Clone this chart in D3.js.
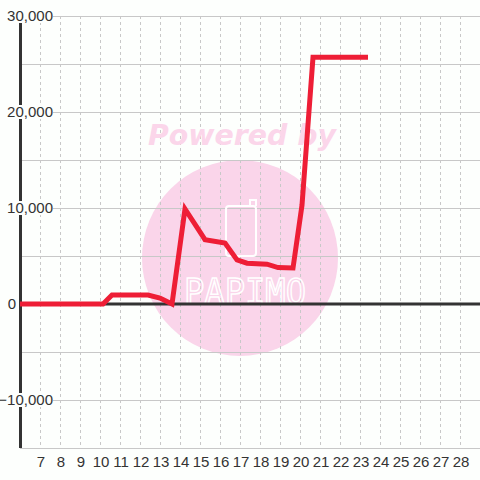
<!DOCTYPE html>
<html>
<head>
<meta charset="utf-8">
<script src="https://cdn.jsdelivr.net/npm/d3@7"></script>
<style>
	html, body { margin: 0; padding: 0; background: #fdfffd; }
	svg { display: block; }
</style>
</head>
<body>
<script>
// readings
var times = [6.0, 10.15, 10.6, 12.4, 13.0, 13.6, 14.25, 15.25, 16.25, 16.85, 17.35, 18.35, 18.9, 19.65, 20.1, 20.65, 23.4];
var values = [0, 0, 940, 940, 620, 0, 9900, 6700, 6350, 4600, 4250, 4150, 3800, 3750, 10300, 25700, 25700];
var xTicks = d3.range(7, 29);
var yTicks = [-10000, 0, 10000, 20000, 30000];
var yGrid = d3.range(-15000, 30001, 5000);

var width = 480, height = 480;
var plotLeft = 20, plotRight = 480, plotTop = 16, plotBottom = 448;

var x = d3.scaleLinear().domain([6, 29]).range([plotLeft, plotRight]);
var y = d3.scaleLinear().domain([-15000, 30000]).range([plotBottom, plotTop]);

var svg = d3.select("body").append("svg")
	.attr("width", width)
	.attr("height", height)
	.style("font-family", "'Liberation Sans', Arial, sans-serif");

svg.append("rect")
	.attr("width", width)
	.attr("height", height)
	.attr("fill", "#fdfffd");

// watermark background
svg.append("circle")
	.attr("cx", 240)
	.attr("cy", 258)
	.attr("r", 98)
	.attr("fill", "#fad5ea");

// grid
var grid = svg.append("g");
grid.selectAll("line.v")
	.data(xTicks)
	.enter()
	.append("line")
	.attr("class", "v")
	.attr("x1", d => x(d) + 0.5)
	.attr("x2", d => x(d) + 0.5)
	.attr("y1", plotTop)
	.attr("y2", plotBottom)
	.attr("stroke", "#c8c8c8")
	.attr("stroke-dasharray", "3,3");

grid.selectAll("line.h")
	.data(yGrid)
	.enter()
	.append("line")
	.attr("class", "h")
	.attr("x1", plotLeft)
	.attr("x2", plotRight)
	.attr("y1", d => Math.round(y(d)) + 0.5)
	.attr("y2", d => Math.round(y(d)) + 0.5)
	.attr("stroke", "#c8c8c8");

// watermark foreground
var logo = svg.append("g");
logo.append("text")
	.attr("x", 242)
	.attr("y", 145)
	.attr("text-anchor", "middle")
	.attr("textLength", 188)
	.attr("lengthAdjust", "spacingAndGlyphs")
	.style("font", "italic bold 28px Verdana, 'DejaVu Sans', sans-serif")
	.attr("fill", "#fbd6ea")
	.text("Powered by");
logo.append("rect")
	.attr("x", 226)
	.attr("y", 206)
	.attr("width", 30)
	.attr("height", 50)
	.attr("rx", 3)
	.attr("fill", "none")
	.attr("stroke", "#fff")
	.attr("stroke-width", 2);
logo.append("path")
	.attr("d", "M250,206 V200 H256 V206")
	.attr("fill", "none")
	.attr("stroke", "#fff")
	.attr("stroke-width", 2);
logo.append("text")
	.attr("x", 184)
	.attr("y", 304)
	.attr("textLength", 122)
	.attr("lengthAdjust", "spacingAndGlyphs")
	.style("font", "36px 'DejaVu Sans Mono', monospace")
	.attr("fill", "none")
	.attr("stroke", "#fff")
	.attr("stroke-width", 1.5)
	.text("PAPIMO");

// zero line and y axis
svg.append("line")
	.attr("x1", plotLeft)
	.attr("x2", plotRight)
	.attr("y1", y(0))
	.attr("y2", y(0))
	.attr("stroke", "#333")
	.attr("stroke-width", 3);

svg.append("line")
	.attr("x1", plotLeft + 0.5)
	.attr("x2", plotLeft + 0.5)
	.attr("y1", plotTop)
	.attr("y2", plotBottom)
	.attr("stroke", "#333")
	.attr("stroke-width", 3);

// y labels with a background box
var yl = svg.append("g")
	.selectAll("g")
	.data(yTicks)
	.enter()
	.append("g")
	.attr("transform", d => "translate(0," + y(d) + ")");

yl.append("rect")
	.attr("x", d => d === 0 ? 6 : 2)
	.attr("y", -7)
	.attr("width", d => d === 0 ? 11 : 51)
	.attr("height", 14)
	.attr("fill", "#fdfffd");

yl.append("text")
	.attr("x", d => d === 0 ? 16 : 53)
	.attr("dy", "0.36em")
	.attr("text-anchor", "end")
	.attr("fill", "#333")
	.style("font-size", "15px")
	.text(d => d3.format(",")(d));

// x labels
svg.append("g")
	.selectAll("text")
	.data(xTicks)
	.enter()
	.append("text")
	.attr("x", d => x(d) + 1)
	.attr("y", 467)
	.attr("text-anchor", "middle")
	.attr("fill", "#333")
	.style("font-size", "15px")
	.text(d => d);

// series
var line = d3.line()
	.x((d, i) => x(times[i]))
	.y(d => y(d));

svg.append("path")
	.datum(values)
	.attr("d", line)
	.attr("fill", "none")
	.attr("stroke", "#ee1e36")
	.attr("stroke-width", 5)
	.attr("stroke-linejoin", "miter");
</script>
</body>
</html>
